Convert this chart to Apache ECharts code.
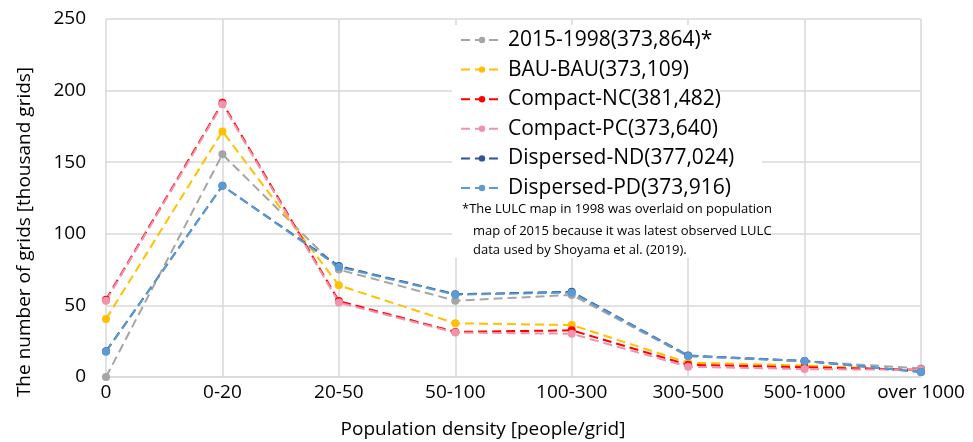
<!DOCTYPE html>
<html>
<head>
<meta charset="utf-8">
<script src="https://cdn.jsdelivr.net/npm/echarts@6/dist/echarts.min.js"></script>
<style>
html,body{margin:0;padding:0;background:#fff;}
#chart{width:973px;height:442px;}
</style>
</head>
<body>
<div id="chart"></div>
<script>
var categories = ['0', '0-20', '20-50', '50-100', '100-300', '300-500', '500-1000', 'over 1000'];
var yTicks = [0, 50, 100, 150, 200, 250];
var seriesNames = ['2015-1998(373,864)*', 'BAU-BAU(373,109)', 'Compact-NC(381,482)', 'Compact-PC(373,640)', 'Dispersed-ND(377,024)', 'Dispersed-PD(373,916)'];
var s2015_1998 = [0, 155.5, 75, 53.3, 57.3, 14.5, 11, 6];
var sBAU = [40.5, 171.5, 64, 37.5, 36.3, 10, 8, 4.5];
var sCompactNC = [54, 191.5, 53, 31.5, 32.6, 8.5, 6.8, 5];
var sCompactPC = [53.3, 190.5, 52, 31, 30.2, 7.2, 5.5, 5];
var sDispersedND = [18, 133.5, 77.5, 57.8, 59.5, 15, 11.2, 3.5];
var sDispersedPD = [17.7, 133.5, 76.8, 57.5, 58.9, 14.7, 11.2, 3.5];
var footnote1 = '*The LULC map in 1998 was overlaid on population';
var footnote2 = 'map of 2015 because it was latest observed LULC\ndata used by Shoyama et al. (2019).';

var colors = ['#A5A5A5', '#FFC000', '#FF0000', '#F293AE', '#2F5597', '#5B9BD5'];
var dataSets = [s2015_1998, sBAU, sCompactNC, sCompactPC, sDispersedND, sDispersedPD];
var FONT = 'Open Sans';

var chart = echarts.init(document.getElementById('chart'));
var series = dataSets.map(function (d, i) {
  return {
    name: seriesNames[i],
    type: 'line',
    data: d,
    symbol: 'circle',
    symbolSize: 8,
    color: colors[i],
    lineStyle: { width: 2, type: [9, 5], color: colors[i] },
    itemStyle: { color: colors[i] },
    emphasis: { disabled: true },
    animation: false
  };
});

chart.setOption({
  animation: false,
  backgroundColor: '#fff',
  grid: { left: 106, right: 52, top: 19, bottom: 65, containLabel: false },
  xAxis: {
    type: 'category',
    data: categories,
    boundaryGap: false,
    axisLine: { show: true, lineStyle: { color: '#D9D9D9', width: 1.5 } },
    axisTick: { show: false },
    axisLabel: { color: '#000', fontFamily: FONT, fontSize: 19, margin: 6 },
    splitLine: { show: true, lineStyle: { color: '#D9D9D9', width: 1.5 } }
  },
  yAxis: {
    type: 'value',
    min: yTicks[0],
    max: yTicks[yTicks.length - 1],
    interval: 50,
    axisLine: { show: false },
    axisTick: { show: false },
    axisLabel: { color: '#000', fontFamily: FONT, fontSize: 19, margin: 20 },
    splitLine: { show: true, lineStyle: { color: '#D9D9D9', width: 1.5 } }
  },
  legend: {
    orient: 'vertical',
    left: 452,
    top: 25,
    padding: [2, 8, 2, 8],
    itemWidth: 42,
    itemHeight: 8,
    itemGap: 3.6,
    z: 20,
    textStyle: { color: '#000', fontFamily: FONT, fontSize: 21, lineHeight: 26, padding: [0, 0, 0, 0] },
    data: seriesNames,
    selectedMode: false
  },
  graphic: [
    { type: 'rect', z: 10, shape: { x: 452, y: 25, width: 268, height: 180 }, style: { fill: '#fff' } },
    { type: 'rect', z: 10, shape: { x: 452, y: 150, width: 310, height: 108 }, style: { fill: '#fff' } },
    { type: 'text', z: 21, left: 462, top: 203, style: { text: footnote1, fill: '#000', font: '13px "Open Sans"' } },
    { type: 'text', z: 21, left: 473, top: 222, style: { text: footnote2, fill: '#000', font: '13px "Open Sans"', lineHeight: 19 } },
    { type: 'text', z: 21, x: 25, y: 232, rotation: Math.PI / 2, style: { text: 'The number of grids [thousand grids]', fill: '#000', font: '19px "Open Sans"', align: 'center', verticalAlign: 'middle' } },
    { type: 'text', z: 21, x: 483, y: 430, style: { text: 'Population density [people/grid]', fill: '#000', font: '19px "Open Sans"', align: 'center', verticalAlign: 'middle' } }
  ],
  series: series
});
</script>
</body>
</html>
